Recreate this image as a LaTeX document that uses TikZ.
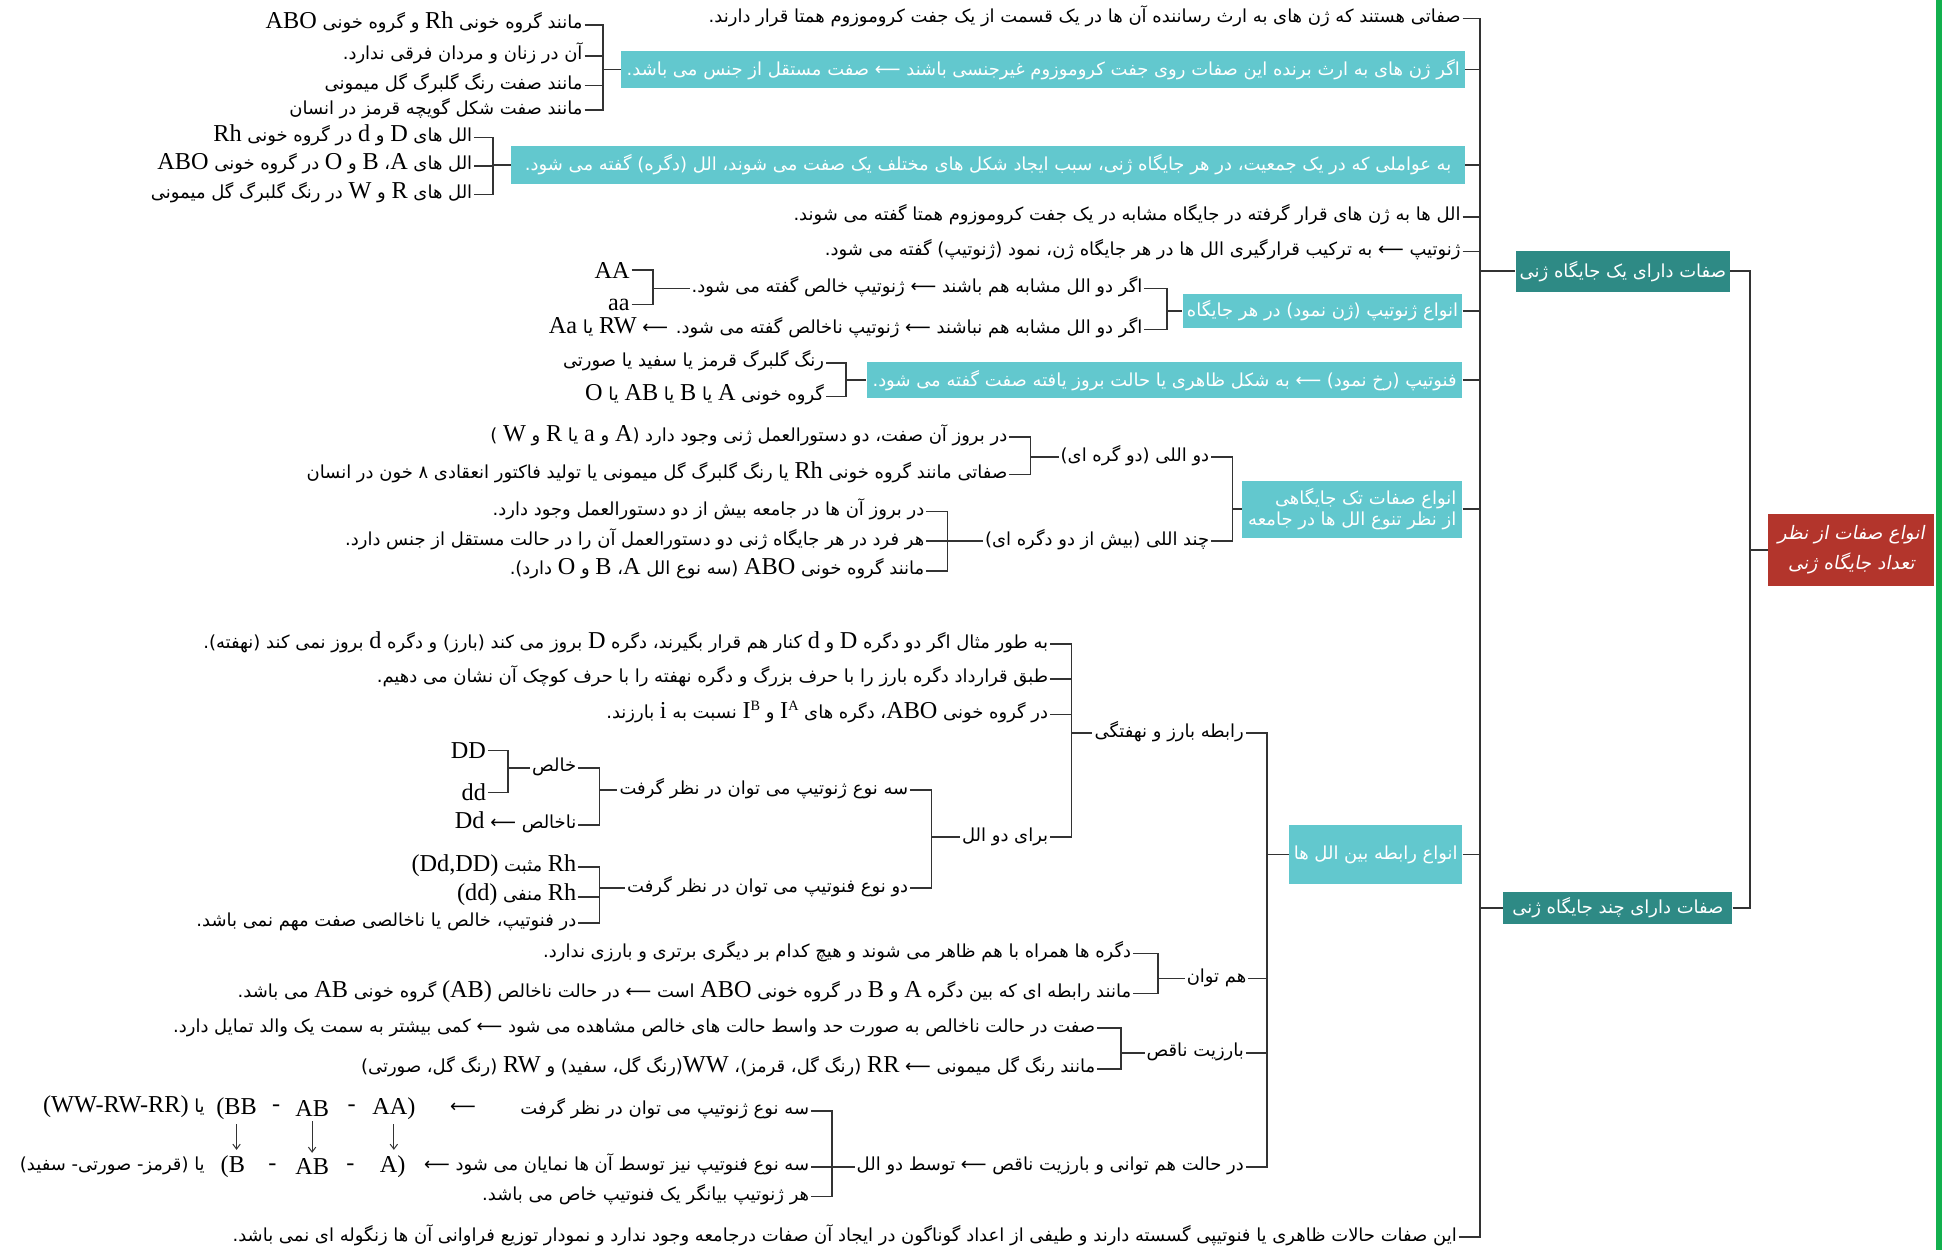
\documentclass[tikz,border=0pt]{standalone}
\usepackage{fontspec}
\newfontfamily\fafont[Script=Arabic]{DejaVu Sans}
\newfontfamily\faslant[Script=Arabic,FakeSlant=0.18]{DejaVu Sans}
\newfontfamily\latfont[Scale=1.35]{Liberation Serif}
\TeXXeTstate=1
\usepackage{xcolor}
\definecolor{boxteal}{HTML}{62C8CE}
\definecolor{darkteal}{HTML}{2E8A85}
\definecolor{boxred}{HTML}{B3352C}
\definecolor{linegray}{HTML}{333333}
\definecolor{edgegreen}{HTML}{12B04E}
\usetikzlibrary{arrows.meta}
\newcommand{\fa}[1]{\beginR #1\endR}
\newcommand{\lat}[1]{\beginL{\latfont #1}\endL}
\newcommand{\supl}[1]{\raisebox{0.7ex}{\fontsize{8.5}{9}\selectfont #1}}

\begin{document}
\begin{tikzpicture}[
      x=1pt, y=-1pt,
      %% plain text item, right end at the given point
      ftxt/.style={anchor=east, inner sep=1.5pt, text height=10.5pt, text depth=4pt,
                   font=\fafont\fontsize{14.5}{17}\selectfont},
      %% Latin-only labels (genotypes)
      ltxt/.style={anchor=east, inner sep=1.5pt, font=\latfont\fontsize{14.5}{17}\selectfont},
      %% light teal boxes
      tbox/.style={anchor=east, fill=boxteal, text=white, inner sep=3pt, align=center,
                   font=\fafont\fontsize{14.5}{17}\selectfont},
      dbox/.style={tbox, fill=darkteal},
      rbox/.style={tbox, fill=boxred, font=\faslant\fontsize{15}{24}\selectfont},
      ln/.style={draw=linegray, line width=1.3pt},
      arw/.style={draw=linegray, line width=0.8pt, shorten <=2pt, shorten >=3pt,
                  -{Straight Barb[length=4pt,width=6pt]}},
    ]
    \useasboundingbox (0,0) rectangle (1568,1009);
    \fill[white] (0,0) rectangle (1568,1009);
    \fill[edgegreen] (1563,0) rectangle (1568,1009);

    %% ── Root and the two main branches ─────────────────────────────────────
    \node[rbox, minimum width=134, minimum height=58] (root) at (1562,444)
      {\fa{انواع صفات از نظر}\\\fa{تعداد جایگاه ژنی}};
    \node[dbox, minimum width=173, minimum height=33] (one) at (1397,219)
      {\fa{صفات دارای یک جایگاه ژنی}};
    \node[dbox, minimum width=185, minimum height=26] (multi) at (1399,733)
      {\fa{صفات دارای چند جایگاه ژنی}};

    \coordinate (rootbar) at (1413,0);
    \coordinate (trunk)   at (1195,0);

    %% ── Items on the trunk ─────────────────────────────────────────────────
    \node[ftxt] (t1) at (1181,15)
      {\fa{صفاتی هستند که ژن های به ارث رساننده آن ها در یک قسمت از یک جفت کروموزوم همتا قرار دارند.}};
    \node[tbox, minimum width=681, minimum height=30] (b2) at (1183,56)
      {\fa{اگر ژن های به ارث برنده این صفات روی جفت کروموزوم غیرجنسی باشند ⟵ صفت مستقل از جنس می باشد.}};
    \node[tbox, minimum width=770, minimum height=31] (b3) at (1183,133)
      {\fa{به عواملی که در یک جمعیت، در هر جایگاه ژنی، سبب ایجاد شکل های مختلف یک صفت می شوند، الل (دگره) گفته می شود.}};
    \node[ftxt] (t4) at (1181,175)
      {\fa{الل ها به ژن های قرار گرفته در جایگاه مشابه در یک جفت کروموزوم همتا گفته می شوند.}};
    \node[ftxt] (t5) at (1181,203)
      {\fa{ژنوتیپ ⟵ به ترکیب قرارگیری الل ها در هر جایگاه ژن، نمود (ژنوتیپ) گفته می شود.}};
    \node[tbox, minimum width=226, minimum height=28] (b6) at (1181,251)
      {\fa{انواع ژنوتیپ (ژن نمود) در هر جایگاه}};
    \node[tbox, minimum width=481, minimum height=29] (b7) at (1181,307)
      {\fa{فنوتیپ (رخ نمود) ⟵ به شکل ظاهری یا حالت بروز یافته صفت گفته می شود.}};
    \node[tbox, minimum width=178, minimum height=46, align=right] (b8) at (1181,411)
      {\fa{انواع صفات تک جایگاهی}\\\fa{از نظر تنوع الل ها در جامعه}};
    \node[tbox, minimum width=140, minimum height=47] (b9) at (1181,690)
      {\fa{انواع رابطه بین الل ها}};
    \node[ftxt] (t10) at (1178,999)
      {\fa{این صفات حالات ظاهری یا فنوتیپی گسسته دارند و طیفی از اعداد گوناگون در ایجاد آن صفات درجامعه وجود ندارد و نمودار توزیع فراوانی آن ها زنگوله ای نمی باشد.}};

    %% ── Sex-independent examples ───────────────────────────────────────────
    \node[ftxt] (a1) at (472,20) {\fa{مانند گروه خونی \lat{Rh} و گروه خونی \lat{ABO}}};
    \node[ftxt] (a2) at (472,45) {\fa{آن در زنان و مردان فرقی ندارد.}};
    \node[ftxt] (a3) at (472,69) {\fa{مانند صفت رنگ گلبرگ گل میمونی}};
    \node[ftxt] (a4) at (472,89) {\fa{مانند صفت شکل گویچه قرمز در انسان}};
    \coordinate (kA) at (487,0);

    %% ── Allele examples ────────────────────────────────────────────────────
    \node[ftxt] (c1) at (383,111) {\fa{الل های \lat{D} و \lat{d} در گروه خونی \lat{Rh}}};
    \node[ftxt] (c2) at (383,134) {\fa{الل های \lat{A}، \lat{B} و \lat{O} در گروه خونی \lat{ABO}}};
    \node[ftxt] (c3) at (383,157) {\fa{الل های \lat{R} و \lat{W} در رنگ گلبرگ گل میمونی}};
    \coordinate (kC) at (398,0);

    %% ── Genotype kinds ─────────────────────────────────────────────────────
    \node[ftxt] (g1) at (924,233) {\fa{اگر دو الل مشابه هم باشند ⟵ ژنوتیپ خالص گفته می شود.}};
    \node[ftxt] (g2) at (924,266)
      {\fa{اگر دو الل مشابه هم نباشند ⟵ ژنوتیپ ناخالص گفته می شود. ⟵ \lat{RW} یا \lat{Aa}}};
    \node[ltxt] (AA) at (510,218) {AA};
    \node[ltxt] (aa) at (510,246) {aa};
    \coordinate (kG) at (942,0);
    \coordinate (kG1) at (527,0);

    %% ── Phenotype examples ─────────────────────────────────────────────────
    \node[ftxt] (p1) at (667,293) {\fa{رنگ گلبرگ قرمز یا سفید یا صورتی}};
    \node[ftxt] (p2) at (667,320) {\fa{گروه خونی \lat{A} یا \lat{B} یا \lat{AB} یا \lat{O}}};
    \coordinate (kP) at (683,0);

    %% ── Single-locus trait kinds ───────────────────────────────────────────
    \node[ftxt] (s1) at (978,369) {\fa{دو اللی (دو گره ای)}};
    \node[ftxt] (s2) at (978,437) {\fa{چند اللی (بیش از دو دگره ای)}};
    \node[ftxt] (s11) at (815,353)
      {\fa{در بروز آن صفت، دو دستورالعمل ژنی وجود دارد (\lat{A} و \lat{a} یا \lat{R} و \lat{W} )}};
    \node[ftxt] (s12) at (815,383)
      {\fa{صفاتی مانند گروه خونی \lat{Rh} یا رنگ گلبرگ گل میمونی یا تولید فاکتور انعقادی ۸ خون در انسان}};
    \node[ftxt] (s21) at (748,413) {\fa{در بروز آن ها در جامعه بیش از دو دستورالعمل وجود دارد.}};
    \node[ftxt] (s22) at (748,437) {\fa{هر فرد در هر جایگاه ژنی دو دستورالعمل آن را در حالت مستقل از جنس دارد.}};
    \node[ftxt] (s23) at (748,461) {\fa{مانند گروه خونی \lat{ABO} (سه نوع الل \lat{A}، \lat{B} و \lat{O} دارد).}};
    \coordinate (kS) at (995,0);
    \coordinate (kS1) at (832,0);
    \coordinate (kS2) at (765,0);

    %% ── Relations between alleles ──────────────────────────────────────────
    \node[ftxt] (r1) at (1006,592) {\fa{رابطه بارز و نهفتگی}};
    \node[ftxt] (r2) at (1008,790) {\fa{هم توان}};
    \node[ftxt] (r3) at (1006,850) {\fa{بارزیت ناقص}};
    \node[ftxt] (r4) at (1006,942) {\fa{در حالت هم توانی و بارزیت ناقص ⟵ توسط دو الل}};
    \coordinate (kR) at (1023,0);

    \node[ftxt] (r11) at (848,520)
      {\fa{به طور مثال اگر دو دگره \lat{D} و \lat{d} کنار هم قرار بگیرند، دگره \lat{D} بروز می کند (بارز) و دگره \lat{d} بروز نمی کند (نهفته).}};
    \node[ftxt] (r12) at (848,548)
      {\fa{طبق قرارداد دگره بارز را با حرف بزرگ و دگره نهفته را با حرف کوچک آن نشان می دهیم.}};
    \node[ftxt] (r13) at (848,577)
      {\fa{در گروه خونی \lat{ABO}، دگره های \lat{I\supl{A}} و \lat{I\supl{B}} نسبت به \lat{i} بارزند.}};
    \node[ftxt] (r14) at (848,676) {\fa{برای دو الل}};
    \coordinate (kR1) at (865,0);

    \node[ftxt] (r141) at (735,638) {\fa{سه نوع ژنوتیپ می توان در نظر گرفت}};
    \node[ftxt] (r142) at (735,717) {\fa{دو نوع فنوتیپ می توان در نظر گرفت}};
    \coordinate (kR14) at (752,0);
    \coordinate (kGt) at (484,0);

    \node[ftxt] (pure) at (467,620) {\fa{خالص}};
    \node[ftxt] (impure) at (467,666) {\fa{ناخالص ⟵ \lat{Dd}}};
    \node[ltxt] (DD) at (394,606) {DD};
    \node[ltxt] (dd) at (394,640) {dd};
    \coordinate (kPure) at (410,0);

    \node[ftxt] (ph1) at (467,700) {\fa{\lat{Rh} مثبت \lat{(Dd,DD)}}};
    \node[ftxt] (ph2) at (467,724) {\fa{\lat{Rh} منفی \lat{(dd)}}};
    \node[ftxt] (ph3) at (467,745) {\fa{در فنوتیپ، خالص یا ناخالصی صفت مهم نمی باشد.}};

    \node[ftxt] (r21) at (915,770)
      {\fa{دگره ها همراه با هم ظاهر می شوند و هیچ کدام بر دیگری برتری و بارزی ندارد.}};
    \node[ftxt] (r22) at (915,802)
      {\fa{مانند رابطه ای که بین دگره \lat{A} و \lat{B} در گروه خونی \lat{ABO} است ⟵ در حالت ناخالص \lat{(AB)} گروه خونی \lat{AB} می باشد.}};
    \coordinate (kR2) at (935,0);

    \node[ftxt] (r31) at (886,830)
      {\fa{صفت در حالت ناخالص به صورت حد واسط حالت های خالص مشاهده می شود ⟵ کمی بیشتر به سمت یک والد تمایل دارد.}};
    \node[ftxt] (r32) at (886,863)
      {\fa{مانند رنگ گل میمونی ⟵ \lat{RR} (رنگ گل، قرمز)، \lat{WW}(رنگ گل، سفید) و \lat{RW} (رنگ گل، صورتی)}};
    \coordinate (kR3) at (905,0);

    \node[ftxt] (r41) at (655,897) {\fa{سه نوع ژنوتیپ می توان در نظر گرفت}};
    \node[ftxt] (r42) at (655,942) {\fa{سه نوع فنوتیپ نیز توسط آن ها نمایان می شود ⟵}};
    \node[ftxt] (r43) at (655,966) {\fa{هر ژنوتیپ بیانگر یک فنوتیپ خاص می باشد.}};
    \coordinate (kR4) at (672,0);

    %% genotype / phenotype rows
    \node[ftxt] (gar) at (386,895) {\fa{⟵}};
    \node[ltxt, anchor=center] (gBB) at (191,895) {(BB};
    \node[ltxt, anchor=center] (gd1) at (223,895) {-};
    \node[ltxt, anchor=center] (gAB) at (252,895) {AB};
    \node[ltxt, anchor=center] (gd2) at (284,895) {-};
    \node[ltxt, anchor=center] (gAA) at (318,895) {AA)};
    \node[ftxt] (gor) at (167,895) {\fa{یا \lat{(WW-RW-RR)}}};
    \node[ltxt, anchor=center] (pB) at (188,942) {(B};
    \node[ltxt, anchor=center] (pd1) at (220,942) {-};
    \node[ltxt, anchor=center] (pAB) at (252,942) {AB};
    \node[ltxt, anchor=center] (pd2) at (283,942) {-};
    \node[ltxt, anchor=center] (pA) at (317,942) {A)};
    \node[ftxt] (por) at (167,942) {\fa{یا (قرمز- صورتی- سفید)}};

    %% ── Connectors ─────────────────────────────────────────────────────────
    \draw[ln] (one.east) -| (root.west -| rootbar) -- (root.west);
    \draw[ln] (multi.east) -| (root.west -| rootbar);

    \draw[ln] (one.west -| trunk) -- (multi.west -| trunk);
    \draw[ln] (t1.east) -| (one.west -| trunk) -- (one.west);
    \draw[ln] (b2.east) -| (one.west -| trunk);
    \draw[ln] (b3.east) -| (one.west -| trunk);
    \draw[ln] (t4.east) -| (one.west -| trunk);
    \draw[ln] (t5.east) -| (one.west -| trunk);
    \draw[ln] (b6.east) -| (one.west -| trunk);
    \draw[ln] (b7.east) -| (one.west -| trunk);
    \draw[ln] (b8.east) -| (one.west -| trunk);
    \draw[ln] (b9.east) -| (one.west -| trunk);
    \draw[ln] (t10.east) -| (multi.west -| trunk) -- (multi.west);

    \draw[ln] (a1.east) -| (b2.west -| kA) -- (b2.west);
    \draw[ln] (a2.east) -| (b2.west -| kA);
    \draw[ln] (a3.east) -| (b2.west -| kA);
    \draw[ln] (a4.east) -| (b2.west -| kA);

    \draw[ln] (c1.east) -| (b3.west -| kC) -- (b3.west);
    \draw[ln] (c2.east) -| (b3.west -| kC);
    \draw[ln] (c3.east) -| (b3.west -| kC);

    \draw[ln] (g1.east) -| (b6.west -| kG) -- (b6.west);
    \draw[ln] (g2.east) -| (b6.west -| kG);
    \draw[ln] (AA.east) -| (g1.west -| kG1) -- (g1.west);
    \draw[ln] (aa.east) -| (g1.west -| kG1);

    \draw[ln] (p1.east) -| (b7.west -| kP) -- (b7.west);
    \draw[ln] (p2.east) -| (b7.west -| kP);

    \draw[ln] (s1.east) -| (b8.west -| kS) -- (b8.west);
    \draw[ln] (s2.east) -| (b8.west -| kS);
    \draw[ln] (s11.east) -| (s1.west -| kS1) -- (s1.west);
    \draw[ln] (s12.east) -| (s1.west -| kS1);
    \draw[ln] (s21.east) -| (s2.west -| kS2) -- (s2.west);
    \draw[ln] (s22.east) -| (s2.west -| kS2);
    \draw[ln] (s23.east) -| (s2.west -| kS2);

    \draw[ln] (r1.east) -| (b9.west -| kR) -- (b9.west);
    \draw[ln] (r2.east) -| (b9.west -| kR);
    \draw[ln] (r3.east) -| (b9.west -| kR);
    \draw[ln] (r4.east) -| (b9.west -| kR);

    \draw[ln] (r11.east) -| (r1.west -| kR1) -- (r1.west);
    \draw[ln] (r12.east) -| (r1.west -| kR1);
    \draw[ln] (r13.east) -| (r1.west -| kR1);
    \draw[ln] (r14.east) -| (r1.west -| kR1);

    \draw[ln] (r141.east) -| (r14.west -| kR14) -- (r14.west);
    \draw[ln] (r142.east) -| (r14.west -| kR14);
    \draw[ln] (pure.east) -| (r141.west -| kGt) -- (r141.west);
    \draw[ln] (impure.east) -| (r141.west -| kGt);
    \draw[ln] (DD.east) -| (pure.west -| kPure) -- (pure.west);
    \draw[ln] (dd.east) -| (pure.west -| kPure);
    \draw[ln] (ph1.east) -| (r142.west -| kGt) -- (r142.west);
    \draw[ln] (ph2.east) -| (r142.west -| kGt);
    \draw[ln] (ph3.east) -| (r142.west -| kGt);

    \draw[ln] (r21.east) -| (r2.west -| kR2) -- (r2.west);
    \draw[ln] (r22.east) -| (r2.west -| kR2);
    \draw[ln] (r31.east) -| (r3.west -| kR3) -- (r3.west);
    \draw[ln] (r32.east) -| (r3.west -| kR3);
    \draw[ln] (r41.east) -| (r4.west -| kR4) -- (r4.west);
    \draw[ln] (r42.east) -| (r4.west -| kR4);
    \draw[ln] (r43.east) -| (r4.west -| kR4);

    \draw[arw] (gBB.south) -- (gBB.south |- pB.north);
    \draw[arw] (gAB.south) -- (pAB.north);
    \draw[arw] (gAA.south) -- (gAA.south |- pA.north);
  \end{tikzpicture}
\end{document}
